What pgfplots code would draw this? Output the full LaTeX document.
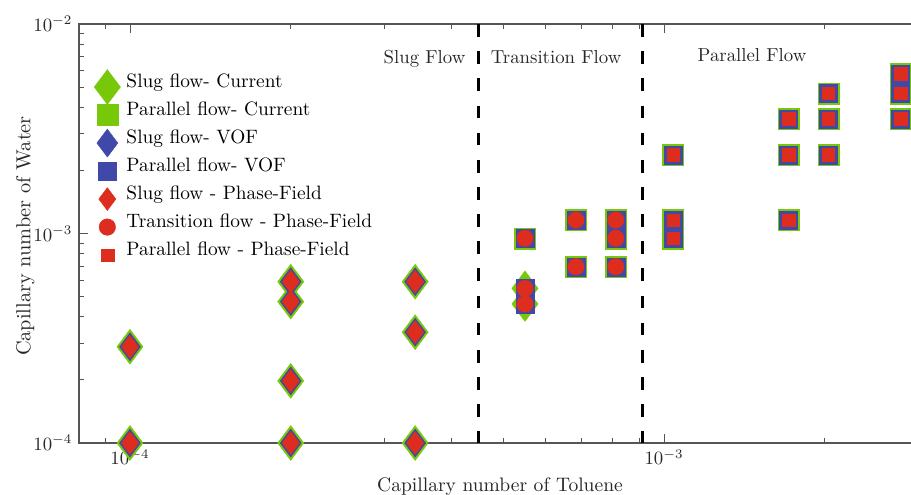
\documentclass[border=0pt]{standalone}
\usepackage{pgfplots}
\usepackage{pgfplotstable}
\pgfplotsset{compat=1.18}
\definecolor{cgreen}{RGB}{120,200,10}
\definecolor{cblue}{RGB}{64,72,168}
\definecolor{cred}{RGB}{220,45,30}
\definecolor{axgray}{RGB}{85,85,85}

\pgfplotstableread{
x y
1e-4 1e-4
1e-4 2.88e-4
2e-4 1e-4
2e-4 1.98e-4
2e-4 4.73e-4
2e-4 5.89e-4
3.42e-4 1e-4
3.42e-4 3.38e-4
3.42e-4 5.89e-4
}\slug
\pgfplotstableread{
x y
1e-4 1e-4
1e-4 2.88e-4
2e-4 1e-4
2e-4 1.98e-4
2e-4 4.73e-4
2e-4 5.89e-4
3.42e-4 1e-4
3.42e-4 3.38e-4
3.42e-4 5.89e-4
5.49e-4 4.61e-4
5.49e-4 5.47e-4
}\slugcur
\pgfplotstableread{
x y
5.49e-4 4.61e-4
5.49e-4 5.47e-4
5.49e-4 9.49e-4
6.84e-4 6.94e-4
6.84e-4 1.159e-3
8.12e-4 6.94e-4
8.12e-4 9.49e-4
8.12e-4 1.159e-3
}\trans
\pgfplotstableread{
x y
1.04e-3 9.49e-4
1.04e-3 1.159e-3
1.04e-3 2.37e-3
1.71e-3 1.159e-3
1.71e-3 2.37e-3
1.71e-3 3.52e-3
2.03e-3 2.37e-3
2.03e-3 3.52e-3
2.03e-3 4.67e-3
2.77e-3 3.52e-3
2.77e-3 4.67e-3
2.77e-3 5.77e-3
}\para
\pgfplotstableread{
x y
5.49e-4 9.49e-4
6.84e-4 6.94e-4
6.84e-4 1.159e-3
8.12e-4 6.94e-4
8.12e-4 9.49e-4
8.12e-4 1.159e-3
1.04e-3 9.49e-4
1.04e-3 1.159e-3
1.04e-3 2.37e-3
1.71e-3 1.159e-3
1.71e-3 2.37e-3
1.71e-3 3.52e-3
2.03e-3 2.37e-3
2.03e-3 3.52e-3
2.03e-3 4.67e-3
2.77e-3 3.52e-3
2.77e-3 4.67e-3
2.77e-3 5.77e-3
}\paracur
\pgfplotstableread{
x y
5.49e-4 4.61e-4
5.49e-4 5.47e-4
5.49e-4 9.49e-4
6.84e-4 6.94e-4
6.84e-4 1.159e-3
8.12e-4 6.94e-4
8.12e-4 9.49e-4
8.12e-4 1.159e-3
1.04e-3 9.49e-4
1.04e-3 1.159e-3
1.04e-3 2.37e-3
1.71e-3 1.159e-3
1.71e-3 2.37e-3
1.71e-3 3.52e-3
2.03e-3 2.37e-3
2.03e-3 3.52e-3
2.03e-3 4.67e-3
2.77e-3 3.52e-3
2.77e-3 4.67e-3
2.77e-3 5.77e-3
}\paravof

\begin{document}
\begin{tikzpicture}
\begin{axis}[
  name=ax,
  scale only axis,
  width=453.3pt, height=222.9pt,
  xmode=log, ymode=log,
  xmin=8.026e-5, xmax=3.1623e-3,
  ymin=1e-4, ymax=1e-2,
  axis line style={draw=axgray, line width=0.6pt},
  every tick/.style={axgray, line width=0.5pt},
  major tick length=4.8pt, minor tick length=2.7pt,
  ytick pos=left,
  xtick={1e-4,1e-3},
  minor xtick={9e-5,2e-4,3e-4,4e-4,5e-4,6e-4,7e-4,8e-4,9e-4,2e-3,3e-3},
  ytick={1e-4,1e-3,1e-2},
  minor ytick={2e-4,3e-4,4e-4,5e-4,6e-4,7e-4,8e-4,9e-4,2e-3,3e-3,4e-3,5e-3,6e-3,7e-3,8e-3,9e-3},
  tick label style={color=black!85},
  clip=false,
  xlabel={Capillary number of Toluene},
  ylabel={Capillary number of Water},
  xlabel style={at={(axis description cs:0.4941,-0.1146)}, anchor=base, color=black!85, font=\fontsize{10.4}{12}\selectfont},
  ylabel style={at={(axis description cs:-0.0569,0.494)}, anchor=base, color=black!85, font=\fontsize{10.8}{12}\selectfont},
  legend cell align=left,
  legend image code/.code={\draw[#1, overlay] plot coordinates {(0.2cm,0cm)}; \path[draw=none,fill=none] (0cm,-2pt) rectangle (0.4cm,2pt);},
  legend style={at={(axis description cs:0.0203,0.8819)}, anchor=north west, draw=none, fill=none,
    inner sep=0pt, row sep=5.9pt, column sep=4.5pt, font=\fontsize{10.3}{12}\selectfont,
    nodes={inner sep=0pt, text height=7pt, text depth=2pt, anchor=base west}},
]
\addplot[only marks, mark=diamond*, mark size=9.3pt, mark options={draw=cgreen, fill=cgreen, line width=0.2pt}] table {\slugcur};
\addlegendentry{Slug flow- Current}
\addplot[only marks, mark=square*, mark size=5.6pt, mark options={draw=cgreen, fill=cgreen, line width=0.2pt}] table {\paracur};
\addlegendentry{Parallel flow- Current}
\addplot[only marks, mark=diamond*, mark size=7.45pt, mark options={draw=cblue, fill=cblue, line width=0.2pt}] table {\slug};
\addlegendentry{Slug flow- VOF}
\addplot[only marks, mark=square*, mark size=4.8pt, mark options={draw=cblue, fill=cblue, line width=0.2pt}] table {\paravof};
\addlegendentry{Parallel flow- VOF}
\addplot[only marks, mark=diamond*, mark size=6.1pt, mark options={draw=cred, fill=cred, line width=0.2pt}] table {\slug};
\addlegendentry{Slug flow - Phase-Field}
\addplot[only marks, mark=*, mark size=4.4pt, mark options={draw=cred, fill=cred, line width=0.2pt}] table {\trans};
\addlegendentry{Transition flow - Phase-Field}
\addplot[only marks, mark=square*, mark size=3.4pt, mark options={draw=cred, fill=cred, line width=0.2pt}] table {\para};
\addlegendentry{Parallel flow - Phase-Field}

\addplot[forget plot, black, line width=1.6pt, dash pattern=on 6.75pt off 7.7pt] coordinates {(4.5e-4,1e-2) (4.5e-4,1e-4)};
\addplot[forget plot, black, line width=1.6pt, dash pattern=on 6.75pt off 7.7pt] coordinates {(9.1e-4,1e-2) (9.1e-4,1e-4)};

\node[anchor=base, black!85] at (axis description cs:0.4055,0.9069) {Slug Flow};
\node[anchor=base, black!85] at (axis description cs:0.5599,0.9069) {Transition Flow};
\node[anchor=base, black!85] at (axis description cs:0.7899,0.9117) {Parallel Flow};
\end{axis}
\pgfresetboundingbox
\path[use as bounding box] ([xshift=-42.03pt,yshift=-27.13pt]ax.south west) rectangle ([xshift=442.6pt,yshift=12.77pt]ax.north west);
\end{tikzpicture}
\end{document}
